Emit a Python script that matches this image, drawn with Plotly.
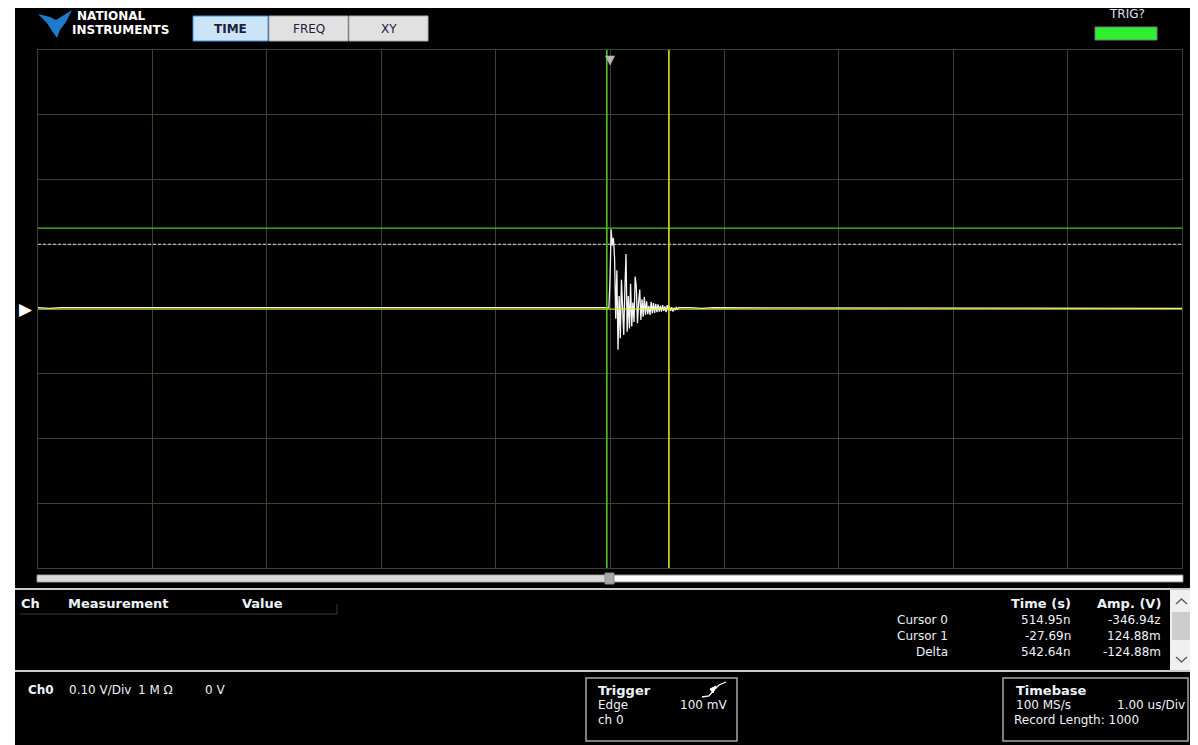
import plotly.graph_objects as go

# ---------------- data ----------------
# pre-trigger baseline (us, V)
pre_t = [i * 0.1 for i in range(-50, 0)]
pre_v = [0.002, 0.001, 0.002, 0.002, 0.001, 0.002, 0.002, 0.001, 0.002, 0.002,
         0.002, 0.001, 0.002, 0.001, 0.002, 0.002, 0.002, 0.001, 0.002, 0.002,
         0.001, 0.002, 0.002, 0.002, 0.001, 0.002, 0.001, 0.002, 0.002, 0.001,
         0.002, 0.002, 0.001, 0.002, 0.002, 0.002, 0.001, 0.002, 0.001, 0.002,
         0.002, 0.002, 0.001, 0.002, 0.002, 0.001, 0.002, 0.002, 0.001, 0.002]
# ringing after the trigger, 10 ns sampling
ring_t = [i * 0.01 for i in range(-1, 61)]
ring_v = [0.002, 0.045, 0.123, 0.098, 0.110, 0.078, -0.015, 0.060, -0.063, 0.020,
          -0.045, 0.045, -0.016, -0.040, 0.030, 0.085, -0.035, 0.020, -0.030, 0.039,
          -0.027, 0.010, -0.020, 0.050, 0.034, -0.022, 0.010, 0.030, -0.017, 0.015,
          -0.012, 0.019, -0.009, 0.012, -0.008, 0.005, -0.009, 0.011, -0.007, 0.009,
          -0.006, 0.008, -0.005, 0.007, -0.004, 0.005, -0.004, 0.006, -0.003, 0.004,
          -0.005, 0.006, -0.002, 0.004, -0.003, 0.003, -0.004, 0.002, -0.002, 0.003,
          -0.001, 0.002]
# post-ringing baseline
post_t = [i * 0.1 for i in range(7, 51)]
post_v = [0.002, 0.001, 0.002, 0.002, 0.001, 0.002, 0.002, 0.001, 0.002, 0.002,
          0.001, 0.002, 0.002, 0.001, 0.002, 0.002, 0.002, 0.001, 0.002, 0.002,
          0.001, 0.002, 0.002, 0.002, 0.001, 0.002, 0.002, 0.002, 0.001, 0.002,
          0.001, 0.002, 0.002, 0.001, 0.002, 0.002, 0.002, 0.001, 0.002, 0.002,
          0.001, 0.002, 0.002, 0.001]

t_us = pre_t + ring_t + post_t
amp_v = pre_v + ring_v + post_v

x_range = [-5.0, 5.0]      # 1.00 us/Div, 10 div
y_range = [-0.4, 0.4]      # 0.10 V/Div, 8 div
cursor0 = (0.51495, -346.94e-21)   # (us, V)
cursor1 = (-0.02769, 0.12488)
trigger_level = 0.1
trigger_pos = 0.0
ch_offset = 0.0

meas_rows = ["Cursor 0", "Cursor 1", "Delta"]
meas_time = ["514.95n", "-27.69n", "542.64n"]
meas_amp = ["-346.94z", "124.88m", "-124.88m"]

# ---------------- layout helpers ----------------
# page coordinates; the figure sits at (8, 8) in the page (default body margin)
OFF = 8
W, H = 1198, 745
PL, PR, PT, PB = 38, 1182, 50, 568
FONT = "DejaVu Sans"
TXT = "#eef2f8"
GRID = "#33452a"


def px(x):
    return (x - PL) / (PR - PL)


def py(y):
    return (PB - y) / (PB - PT)


shapes = []
annotations = []


def rect(x0, y0, x1, y1, fill, line=None, lw=1, layer="below"):
    shapes.append(dict(type="rect", xref="paper", yref="paper",
                       x0=px(x0), x1=px(x1), y0=py(y0), y1=py(y1),
                       fillcolor=fill, layer=layer,
                       line=dict(color=line or fill, width=lw if line else 0)))


def seg(x0, y0, x1, y1, color, lw=1, layer="below"):
    shapes.append(dict(type="line", xref="paper", yref="paper",
                       x0=px(x0), x1=px(x1), y0=py(y0), y1=py(y1),
                       layer=layer, line=dict(color=color, width=lw)))


def path(pts, fill=None, color=None, lw=1, closed=True, layer="above"):
    d = "M " + " L ".join(f"{px(a):.5f},{py(b):.5f}" for a, b in pts)
    if closed:
        d += " Z"
    shapes.append(dict(type="path", xref="paper", yref="paper", path=d,
                       fillcolor=fill or "rgba(0,0,0,0)", layer=layer,
                       line=dict(color=color or "rgba(0,0,0,0)", width=lw)))


def txt(x, y, s, anchor="left", size=12, bold=False, color=TXT, family=FONT):
    annotations.append(dict(x=px(x), y=py(y), xref="paper", yref="paper",
                            text=f"<b>{s}</b>" if bold else s, showarrow=False,
                            xanchor=anchor, yanchor="middle",
                            font=dict(family=family, size=size, color=color)))


# white frame around the black instrument panel
rect(0, 0, 15, H, "#ffffff")
rect(1190, 0, W, 590, "#ffffff")
rect(1193, 590, W, H, "#ffffff")

# NI logo
path([(38, 14), (50, 17), (56, 20), (72, 10), (66, 22), (60, 30), (57, 38), (52, 31), (47, 23)],
     fill="#1f7bc9")
txt(75, 16, "NATIONAL", size=12, bold=True, color="#ffffff")
txt(70, 30, "INSTRUMENTS", size=12, bold=True, color="#ffffff")

# tab buttons
rect(193, 16, 268, 41, "#cce4f7", "#3b8ede", 1, layer="above")
rect(269, 16, 348, 41, "#e1e1e1", "#adadad", 1, layer="above")
rect(349, 16, 428, 41, "#e1e1e1", "#adadad", 1, layer="above")
txt(230.5, 29, "TIME", anchor="center", size=12, bold=True, color="#1b2240")
txt(308.5, 29, "FREQ", anchor="center", size=12, color="#1b2240")
txt(388.5, 29, "XY", anchor="center", size=12, color="#1b2240")

# trigger indicator
txt(1127, 14, "TRIG?", anchor="center", size=12, color="#dfe4f0")
rect(1095, 27, 1157, 40, "#2ef02e", "#7a7a7a", 1, layer="above")

# horizontal scroll bar under the graph
rect(37, 575, 1183, 582, "#ffffff", "#8c8c8c", 1, layer="above")
rect(38, 576, 607, 581, "#d9d9d9", layer="above")
rect(605, 573, 614, 584, "#a8a8a8", "#8c8c8c", 1, layer="above")

# separators
seg(15, 589, 1190, 589, "#c9c9c9", 2)
seg(15, 671, 1193, 671, "#c9c9c9", 2)

# measurement panel
txt(19, 603, "Ch", size=13, bold=True)
txt(66, 603, "Measurement", size=13, bold=True)
txt(240, 603, "Value", size=13, bold=True)
seg(20, 614, 337, 614, "#3a3a3a", 1)
seg(337, 614, 337, 604, "#3a3a3a", 1)
txt(1073, 603, "Time (s)", anchor="right", size=13, bold=True)
txt(1163, 603, "Amp. (V)", anchor="right", size=13, bold=True)
for i, (r, tv, av) in enumerate(zip(meas_rows, meas_time, meas_amp)):
    yy = 620 + 16 * i
    txt(950, yy, r, anchor="right", size=12)
    txt(1073, yy, tv, anchor="right", size=12)
    txt(1163, yy, av, anchor="right", size=12)

# right scrollbar of measurement panel
rect(1170, 590, 1193, 670, "#f0f0f0")
rect(1172, 612, 1191, 640, "#cdcdcd")
path([(1176, 604), (1181.5, 599), (1187, 604)], color="#606060", lw=1.5, closed=False)
path([(1176, 657), (1181.5, 662), (1187, 657)], color="#606060", lw=1.5, closed=False)

# channel settings
txt(26, 690, "Ch0", size=12, bold=True)
txt(67, 690, "0.10 V/Div", size=12)
txt(136, 690, "1 M Ω", size=12)
txt(203, 690, "0 V", size=12)

# trigger box
rect(586, 678, 737, 741, "#000000", "#a8a8a8", 1.5, layer="above")
txt(596, 690, "Trigger", size=13, bold=True)
txt(596, 705, "Edge", size=12)
txt(596, 720, "ch 0", size=12)
txt(729, 705, "100 mV", anchor="right", size=12)
path([(702, 697), (709, 696), (714, 690), (719, 685), (726, 682)], color="#ffffff", lw=1.3,
     closed=False)
path([(710, 689), (716, 686), (713, 693)], fill="#ffffff", color="#ffffff", lw=1)

# timebase box
rect(1003, 678, 1188, 741, "#000000", "#a8a8a8", 1.5, layer="above")
txt(1014, 690, "Timebase", size=13, bold=True)
txt(1014, 705, "100 MS/s", size=12)
txt(1187, 705, "1.00 us/Div", anchor="right", size=12)
txt(1012, 720, "Record Length: 1000", size=12)

# trigger-position and ground markers
annotations.append(dict(x=trigger_pos, y=1.0, xref="x", yref="paper", text="▼",
                        showarrow=False, xanchor="center", yanchor="top",
                        font=dict(family=FONT, size=13, color="#b8b8b8")))
annotations.append(dict(x=px(26), y=ch_offset, xref="paper", yref="y", text="▶",
                        showarrow=False, xanchor="center", yanchor="middle",
                        font=dict(family=FONT, size=17, color="#ffffff")))

# ---------------- figure ----------------
fig = go.Figure()
fig.add_trace(go.Scatter(x=t_us, y=amp_v, mode="lines",
                         line=dict(color="#f4f4f4", width=1.3), hoverinfo="skip"))
# trigger level (dashed white)
fig.add_trace(go.Scatter(x=x_range, y=[trigger_level, trigger_level], mode="lines",
                         line=dict(color="#d8d8d8", width=1.2, dash="3px,2px")))
# cursor 1 (green)
fig.add_trace(go.Scatter(x=[cursor1[0], cursor1[0]], y=y_range, mode="lines",
                         line=dict(color="#4cc21e", width=1.6)))
fig.add_trace(go.Scatter(x=x_range, y=[cursor1[1], cursor1[1]], mode="lines",
                         line=dict(color="#4cc21e", width=1.4)))
# cursor 0 (yellow)
fig.add_trace(go.Scatter(x=[cursor0[0], cursor0[0]], y=y_range, mode="lines",
                         line=dict(color="#e3e31e", width=1.6)))
fig.add_trace(go.Scatter(x=x_range, y=[cursor0[1], cursor0[1]], mode="lines",
                         line=dict(color="#e3e31e", width=1.2)))

fig.update_layout(
    width=W - OFF, height=H - OFF, showlegend=False,
    margin=dict(l=PL - OFF, r=W - PR, t=PT - OFF, b=H - PB, pad=0),
    paper_bgcolor="#000000", plot_bgcolor="#000000",
    shapes=shapes, annotations=annotations,
    xaxis=dict(range=x_range, tick0=0, dtick=1, showticklabels=False, ticks="",
               showgrid=True, gridcolor=GRID, gridwidth=1, zeroline=False,
               showline=True, mirror=True, linecolor=GRID, linewidth=1, fixedrange=True),
    yaxis=dict(range=y_range, tick0=0, dtick=0.1, showticklabels=False, ticks="",
               showgrid=True, gridcolor=GRID, gridwidth=1, zeroline=False,
               showline=True, mirror=True, linecolor=GRID, linewidth=1, fixedrange=True),
)

fig.write_html("out.html")
